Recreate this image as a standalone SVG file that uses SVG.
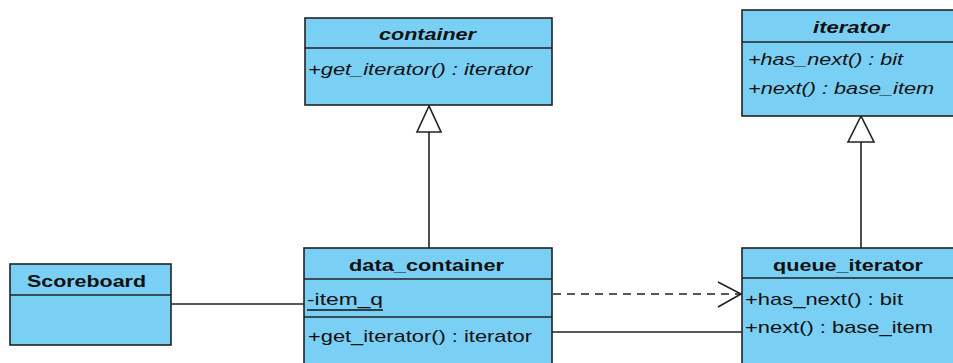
<svg xmlns="http://www.w3.org/2000/svg" width="953" height="363" viewBox="0 0 953 363">
  <style>
    .box { fill: #7acff5; stroke: #222; stroke-width: 1.6; }
    .sep { stroke: #222; stroke-width: 1.6; }
    .title { font-family: "Liberation Sans", Arial, sans-serif; font-size: 17px; font-weight: bold; fill: #111; }
    .abs { font-style: italic; }
    .member { font-family: "Liberation Sans", Arial, sans-serif; font-size: 17px; fill: #111; }
    .edge { fill: none; stroke: #222; stroke-width: 1.6; }
    .dash { stroke-dasharray: 8 6; }
    .tri { fill: #fff; stroke: #222; stroke-width: 1.6; }
  </style>

  <g id="connectors">
    <!-- data_container realizes container -->
    <line class="edge" x1="429" y1="248" x2="429" y2="132"/>
    <polygon class="tri" points="429,106 417,132 441,132"/>
    <!-- queue_iterator realizes iterator -->
    <line class="edge" x1="861" y1="248" x2="861" y2="142"/>
    <polygon class="tri" points="861,116 848,142 874,142"/>
    <!-- Scoreboard to data_container -->
    <line class="edge" x1="171" y1="304" x2="304" y2="304"/>
    <!-- dependency -->
    <line class="edge dash" x1="553" y1="294" x2="741" y2="294"/>
    <polyline class="edge" points="718,282 741,294 718,307"/>
    <!-- association -->
    <line class="edge" x1="552" y1="332" x2="742" y2="332"/>
  </g>

  <g id="container">
    <rect class="box" x="305" y="18" width="247" height="87"/>
    <line class="sep" x1="305" y1="48" x2="552" y2="48"/>
    <text class="title abs" x="379" y="40" textLength="97" lengthAdjust="spacingAndGlyphs">container</text>
    <text class="member abs" x="308" y="75" textLength="224" lengthAdjust="spacingAndGlyphs">+get_iterator() : iterator</text>
  </g>

  <g id="iterator">
    <rect class="box" x="742" y="10" width="230" height="106"/>
    <line class="sep" x1="742" y1="42" x2="972" y2="42"/>
    <text class="title abs" x="813" y="33" textLength="76" lengthAdjust="spacingAndGlyphs">iterator</text>
    <text class="member abs" x="748" y="65" textLength="155" lengthAdjust="spacingAndGlyphs">+has_next() : bit</text>
    <text class="member abs" x="748" y="94" textLength="186" lengthAdjust="spacingAndGlyphs">+next() : base_item</text>
  </g>

  <g id="scoreboard">
    <rect class="box" x="10" y="264" width="161" height="81"/>
    <line class="sep" x1="10" y1="295" x2="171" y2="295"/>
    <text class="title" x="27" y="287" textLength="119" lengthAdjust="spacingAndGlyphs">Scoreboard</text>
  </g>

  <g id="data_container">
    <rect class="box" x="304" y="248" width="248" height="130"/>
    <line class="sep" x1="304" y1="279" x2="552" y2="279"/>
    <line class="sep" x1="304" y1="317" x2="552" y2="317"/>
    <text class="title" x="349" y="271" textLength="155" lengthAdjust="spacingAndGlyphs">data_container</text>
    <text class="member" x="307" y="305" textLength="76" lengthAdjust="spacingAndGlyphs">-item_q</text>
    <line x1="307" y1="310" x2="383" y2="310" stroke="#111" stroke-width="1.3"/>
    <text class="member" x="308" y="342" textLength="224" lengthAdjust="spacingAndGlyphs">+get_iterator() : iterator</text>
  </g>

  <g id="queue_iterator">
    <rect class="box" x="742" y="248" width="230" height="130"/>
    <line class="sep" x1="742" y1="278" x2="972" y2="278"/>
    <text class="title" x="773" y="271" textLength="150" lengthAdjust="spacingAndGlyphs">queue_iterator</text>
    <text class="member" x="745" y="305" textLength="158" lengthAdjust="spacingAndGlyphs">+has_next() : bit</text>
    <text class="member" x="745" y="333" textLength="188" lengthAdjust="spacingAndGlyphs">+next() : base_item</text>
  </g>
</svg>
